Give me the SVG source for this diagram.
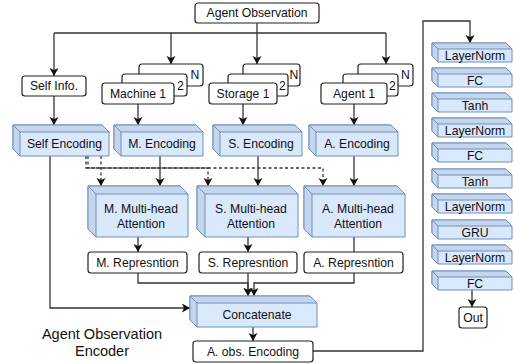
<svg xmlns="http://www.w3.org/2000/svg" width="514" height="364" viewBox="0 0 514 364">
  <defs>
    <marker id="arrow" markerUnits="userSpaceOnUse" markerWidth="10" markerHeight="10" refX="8" refY="4.5" orient="auto">
      <path d="M0,0 L8,4.5 L0,9 L2,4.5 Z" fill="#111"/>
    </marker>
    <!-- thin layer block used in the right-hand stack -->
    <g id="layer">
      <path class="cf" d="M0,0 H74 L80,6 V19 H6 L0,13 Z"/>
      <path class="cd" d="M0,0 H74 L80,6 H6 Z"/>
      <path class="cd" d="M0,0 L6,6 V19 L0,13 Z"/>
    </g>
  </defs>
  <style>
    text { font-family: "Liberation Sans", Arial, sans-serif; font-size: 12.2px; fill: #111; text-anchor: middle; dominant-baseline: central; }
    .box { fill: #fff; stroke: #222; stroke-width: 1.2; }
    .cf { fill: #dae8fc; stroke: #6c8ebf; stroke-width: 1; }
    .cd { fill: #c7d5eb; stroke: #6c8ebf; stroke-width: 1; stroke-linejoin: round; }
    .ln { fill: none; stroke: #333; stroke-width: 1.3; }
    .arr { marker-end: url(#arrow); }
    .dash { stroke-dasharray: 3 2.5; }
    .title { font-size: 14.5px; }
  </style>

  <rect width="514" height="364" fill="#fff"/>

  <!-- connectors -->
  <g id="connectors">
    <path class="ln arr" d="M257,23 V64"/>
    <path class="ln" d="M54,33 H386"/>
    <path class="ln arr" d="M54,33 V76"/>
    <path class="ln arr" d="M171,33 V64"/>
    <path class="ln arr" d="M386,33 V64"/>

    <path class="ln arr" d="M54,96 V125"/>
    <path class="ln arr" d="M138,104 V125"/>
    <path class="ln arr" d="M243,104 V125"/>
    <path class="ln arr" d="M354,104 V125"/>

    <path class="ln arr" d="M160,156 V186"/>
    <path class="ln arr" d="M258,156 V186"/>
    <path class="ln arr" d="M354,156 V186"/>

    <path class="ln dash arr" d="M101,156 V186"/>
    <path class="ln dash arr" d="M86,156 V168 H208 V186"/>
    <path class="ln dash arr" d="M88,156 V168 H323 V186"/>

    <path class="ln arr" d="M138,237 V252"/>
    <path class="ln arr" d="M248,237 V252"/>
    <path class="ln" d="M354,237 V253"/>

    <path class="ln arr" d="M138,273 V283 H248 V296"/>
    <path class="ln arr" d="M248,273 V296"/>
    <path class="ln arr" d="M354,273 V283 H254 V296"/>
    <path class="ln arr" d="M50,156 V308 H190"/>

    <path class="ln arr" d="M253,327 V341"/>
    <path class="ln arr" d="M313,351 H423 V21 H470 V43"/>
    <path class="ln arr" d="M472,290 V307"/>
  </g>

  <!-- inputs -->
  <g id="agent-observation">
    <rect class="box" x="195" y="3" width="124" height="20" rx="3"/>
    <text x="257" y="13">Agent Observation</text>
  </g>
  <g id="self-info">
    <rect class="box" x="22" y="76" width="64" height="20" rx="3"/>
    <text x="54" y="86">Self Info.</text>
  </g>
  <g id="machine-stack">
    <rect class="box" x="139" y="64" width="64" height="22" rx="3"/>
    <rect class="box" x="122" y="74" width="65" height="22" rx="3"/>
    <rect class="box" x="102" y="83" width="72" height="21" rx="3"/>
    <text x="195" y="75">N</text>
    <text x="180.5" y="86">2</text>
    <text x="138" y="93.5">Machine 1</text>
  </g>
  <g id="storage-stack">
    <rect class="box" x="243" y="64" width="57" height="22" rx="3"/>
    <rect class="box" x="228" y="74" width="60" height="22" rx="3"/>
    <rect class="box" x="209" y="83" width="68" height="21" rx="3"/>
    <text x="294" y="75">N</text>
    <text x="282.5" y="86">2</text>
    <text x="243" y="93.5">Storage 1</text>
  </g>
  <g id="agent-stack">
    <rect class="box" x="358" y="64" width="55" height="22" rx="3"/>
    <rect class="box" x="343" y="74" width="55" height="22" rx="3"/>
    <rect class="box" x="321" y="83" width="66" height="21" rx="3"/>
    <text x="405.5" y="75">N</text>
    <text x="392.5" y="86">2</text>
    <text x="354" y="93.5">Agent 1</text>
  </g>

  <!-- encoders -->
  <g id="self-encoding">
    <path class="cf" d="M13,125 H102 L109,132 V156 H20 L13,149 Z"/>
    <path class="cd" d="M13,125 H102 L109,132 H20 Z"/>
    <path class="cd" d="M13,125 L20,132 V156 L13,149 Z"/>
    <text x="64.5" y="144">Self Encoding</text>
  </g>
  <g id="m-encoding">
    <path class="cf" d="M114,125 H196 L203,132 V156 H121 L114,149 Z"/>
    <path class="cd" d="M114,125 H196 L203,132 H121 Z"/>
    <path class="cd" d="M114,125 L121,132 V156 L114,149 Z"/>
    <text x="162" y="144">M. Encoding</text>
  </g>
  <g id="s-encoding">
    <path class="cf" d="M213,125 H295 L302,132 V156 H220 L213,149 Z"/>
    <path class="cd" d="M213,125 H295 L302,132 H220 Z"/>
    <path class="cd" d="M213,125 L220,132 V156 L213,149 Z"/>
    <text x="261" y="144">S. Encoding</text>
  </g>
  <g id="a-encoding">
    <path class="cf" d="M309,125 H391 L398,132 V156 H316 L309,149 Z"/>
    <path class="cd" d="M309,125 H391 L398,132 H316 Z"/>
    <path class="cd" d="M309,125 L316,132 V156 L309,149 Z"/>
    <text x="357" y="144">A. Encoding</text>
  </g>

  <!-- attention blocks -->
  <g id="m-attention">
    <path class="cf" d="M88,186 H180 L188,194 V237 H96 L88,229 Z"/>
    <path class="cd" d="M88,186 H180 L188,194 H96 Z"/>
    <path class="cd" d="M88,186 L96,194 V237 L88,229 Z"/>
    <text x="141" y="209">M. Multi-head</text>
    <text x="141" y="224">Attention</text>
  </g>
  <g id="s-attention">
    <path class="cf" d="M197,186 H290 L298,194 V237 H205 L197,229 Z"/>
    <path class="cd" d="M197,186 H290 L298,194 H205 Z"/>
    <path class="cd" d="M197,186 L205,194 V237 L197,229 Z"/>
    <text x="251" y="209">S. Multi-head</text>
    <text x="251" y="224">Attention</text>
  </g>
  <g id="a-attention">
    <path class="cf" d="M304,186 H397 L405,194 V237 H312 L304,229 Z"/>
    <path class="cd" d="M304,186 H397 L405,194 H312 Z"/>
    <path class="cd" d="M304,186 L312,194 V237 L304,229 Z"/>
    <text x="358" y="209">A. Multi-head</text>
    <text x="358" y="224">Attention</text>
  </g>

  <!-- representations -->
  <g id="m-representation">
    <rect class="box" x="88" y="252" width="99" height="21" rx="3"/>
    <text x="137.5" y="262.5">M. Represntion</text>
  </g>
  <g id="s-representation">
    <rect class="box" x="199" y="252" width="98" height="21" rx="3"/>
    <text x="248" y="262.5">S. Represntion</text>
  </g>
  <g id="a-representation">
    <rect class="box" x="304" y="252" width="99" height="21" rx="3"/>
    <text x="353.5" y="262.5">A. Represntion</text>
  </g>

  <g id="concatenate">
    <path class="cf" d="M190,296 H310 L317,303 V327 H197 L190,320 Z"/>
    <path class="cd" d="M190,296 H310 L317,303 H197 Z"/>
    <path class="cd" d="M190,296 L197,303 V327 L190,320 Z"/>
    <text x="257" y="315">Concatenate</text>
  </g>
  <g id="obs-encoding">
    <rect class="box" x="193" y="341" width="120" height="21" rx="3"/>
    <text x="253" y="351.5">A. obs. Encoding</text>
  </g>

  <g id="encoder-caption">
    <text class="title" x="102" y="334">Agent Observation</text>
    <text class="title" x="102" y="351">Encoder</text>
  </g>

  <!-- policy head stack -->
  <g id="layernorm-1"><use href="#layer" x="432" y="43"/><text x="475" y="55.5">LayerNorm</text></g>
  <g id="fc-1"><use href="#layer" x="432" y="68"/><text x="475" y="80.5">FC</text></g>
  <g id="tanh-1"><use href="#layer" x="432" y="93"/><text x="475" y="105.5">Tanh</text></g>
  <g id="layernorm-2"><use href="#layer" x="432" y="118"/><text x="475" y="130.5">LayerNorm</text></g>
  <g id="fc-2"><use href="#layer" x="432" y="143"/><text x="475" y="155.5">FC</text></g>
  <g id="tanh-2"><use href="#layer" x="432" y="169"/><text x="475" y="181.5">Tanh</text></g>
  <g id="layernorm-3"><use href="#layer" x="432" y="194"/><text x="475" y="206.5">LayerNorm</text></g>
  <g id="gru"><use href="#layer" x="432" y="220"/><text x="475" y="232.5">GRU</text></g>
  <g id="layernorm-4"><use href="#layer" x="432" y="245"/><text x="475" y="257.5">LayerNorm</text></g>
  <g id="fc-3"><use href="#layer" x="432" y="271"/><text x="475" y="283.5">FC</text></g>
  <g id="out">
    <rect class="box" x="459" y="307" width="28" height="21" rx="3"/>
    <text x="473" y="317.5">Out</text>
  </g>
</svg>
